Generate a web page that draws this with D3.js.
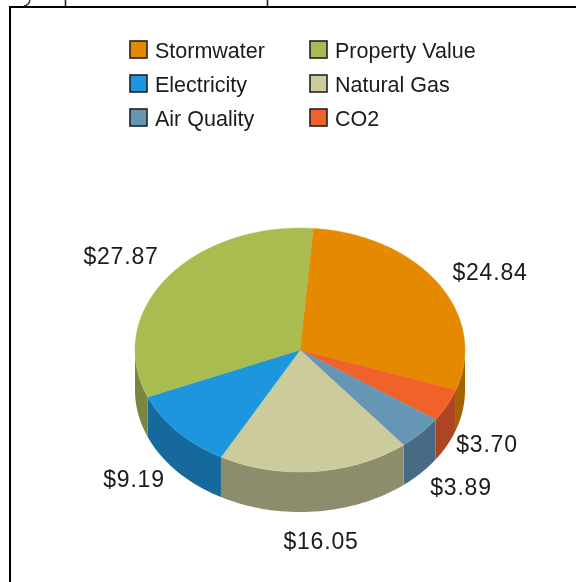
<!DOCTYPE html>
<html><head><meta charset="utf-8">
<style>html,body{margin:0;padding:0;background:#fff;overflow:hidden}svg{display:block}text{font-family:"Liberation Sans",Arial,sans-serif;fill:#1a1a1a}</style>
<script src="https://cdn.jsdelivr.net/npm/d3@7"></script></head><body>
<script>
const categories = ["Stormwater","CO2","Air Quality","Natural Gas","Electricity","Property Value"];
const values = [24.84,3.70,3.89,16.05,9.19,27.87];
const topColors = ["#e58a00","#f0622a","#6696b5","#cbcb9c","#1a96dc","#a8bc50"];
const sideColors = ["#a46400","#ae4520","#4a6a84","#8d8d6e","#13699c","#788640"];
const legendOrder = ["Stormwater","Property Value","Electricity","Natural Gas","Air Quality","CO2"];

const W=576,H=582,cx=300,cy=350,rx=165,ry=122,depth=40;
const svg=d3.select("body").append("svg").attr("width",W).attr("height",H);
const soft=svg.append("defs").append("filter").attr("id","soft");
soft.append("feGaussianBlur").attr("stdDeviation",0.4);

// page frame and the clipped line of text above it
svg.append("path").attr("d","M10,582V7H576").attr("fill","none").attr("stroke","#000").attr("stroke-width",2);
svg.append("path").attr("d","M65.5,0V6M267.5,0V6").attr("stroke","#222").attr("stroke-width",1.6);
svg.append("path").attr("d","M24,6Q29,5 30,0").attr("fill","none").attr("stroke","#333").attr("stroke-width",1.4);

const sx=d3.scaleLinear().domain([-1,1]).range([cx-rx,cx+rx]);
const sy=d3.scaleLinear().domain([-1,1]).range([cy-ry,cy+ry]);
const color=d3.scaleOrdinal(categories,topColors);
const side=d3.scaleOrdinal(categories,sideColors);
const rad=d3.scaleLinear().domain([0,360]).range([0,2*Math.PI]);
const arcs=d3.pie().value((d,i)=>values[i]).sort(null).startAngle(rad(4.6)).endAngle(rad(364.6))(categories);

const px=a=>sx(Math.sin(a)), py=a=>sy(-Math.cos(a));
const chart=svg.append("g").attr("filter","url(#soft)");

// walls: the part of every slice that faces the viewer
const front=[rad(90),rad(270)];
arcs.map(d=>{
  const a0=Math.max(d.startAngle,front[0]),a1=Math.min(d.endAngle,front[1]);
  if(a1<=a0) return;
  const n=40, pts=d3.range(n+1).map(i=>a0+(a1-a0)*i/n);
  const p=d3.path();
  pts.forEach((a,i)=> i?p.lineTo(px(a),py(a)):p.moveTo(px(a),py(a)));
  pts.slice().reverse().forEach(a=>p.lineTo(px(a),py(a)+depth));
  p.closePath();
  chart.append("path").attr("d",p.toString()).attr("fill",side(d.data));
});
// top face
arcs.forEach(d=>{
  const n=60,p=d3.path();
  p.moveTo(cx,cy);
  d3.range(n+1).forEach(i=>{const a=d.startAngle+(d.endAngle-d.startAngle)*i/n;p.lineTo(px(a),py(a));});
  p.closePath();
  chart.append("path").attr("d",p.toString()).attr("fill",color(d.data)).attr("stroke",color(d.data)).attr("stroke-width",0.4);
});

// value labels
const labelCentre={"Stormwater":[490,272],"CO2":[487,444],"Air Quality":[461,487],"Natural Gas":[321,541],"Electricity":[134,479],"Property Value":[121,256]};
const g=svg.append("g").attr("filter","url(#soft)");
arcs.forEach(d=>{
  g.append("text").attr("x",labelCentre[d.data][0]).attr("y",labelCentre[d.data][1]+8)
   .attr("text-anchor","middle").attr("font-size",23).attr("letter-spacing",0.8).text(d3.format("$.2f")(d.value));
});

// legend
legendOrder.forEach((name,i)=>{
  const col=i%2,row=Math.floor(i/2);
  const x=[130,310][col],y=[41,75,109][row];
  g.append("rect").attr("x",x).attr("y",y).attr("width",17).attr("height",17)
   .attr("fill",color(name)).attr("stroke","#222").attr("stroke-width",1.6);
  g.append("text").attr("x",x+25).attr("y",y+16.5).attr("font-size",21.5).text(name);
});
</script></body></html>
